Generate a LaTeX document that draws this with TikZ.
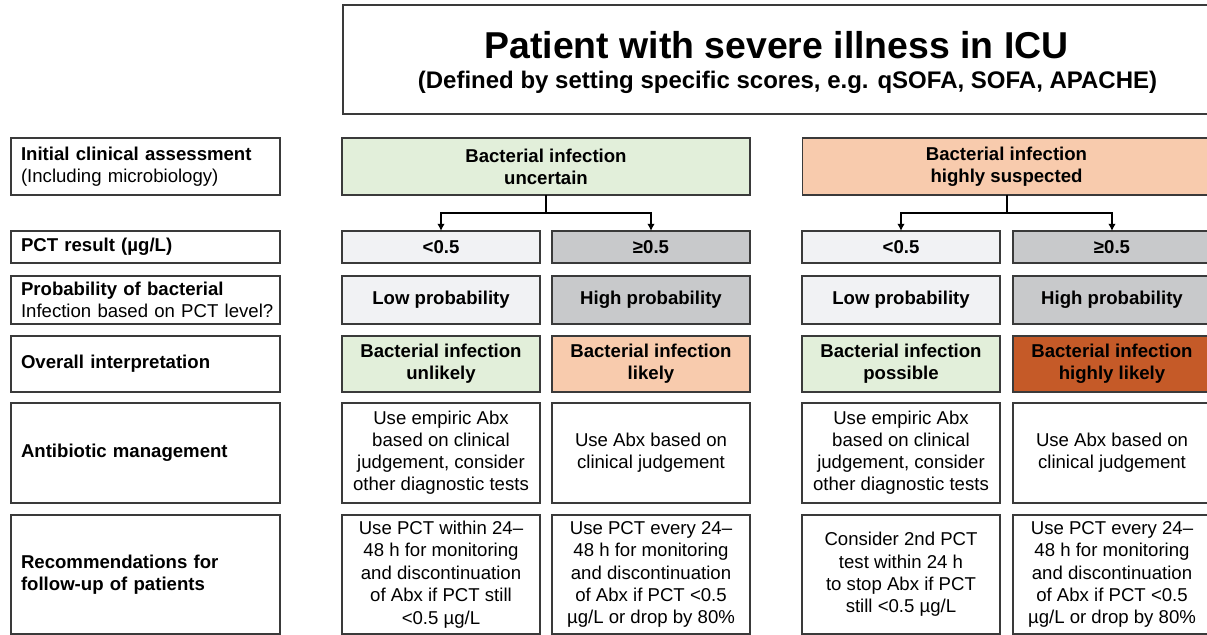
\documentclass[tikz,border=0pt]{standalone}
\usepackage{fontspec}
\setmainfont{Liberation Sans}
\usetikzlibrary{positioning,arrows.meta}

\definecolor{boxline}{HTML}{3A3A3A}
\definecolor{greenfill}{HTML}{E2EFDA}
\definecolor{peachfill}{HTML}{F8CBAD}
\definecolor{rustfill}{HTML}{C55A28}
\definecolor{lowgray}{HTML}{F1F2F4}
\definecolor{highgray}{HTML}{C8C9CB}

\begin{document}
\begin{tikzpicture}
[every node/.style={draw=boxline,line width=0.75pt,inner sep=0pt,outer sep=0pt,align=center,font=\fontsize{9.3}{11}\selectfont},
 lab/.style={rectangle,minimum width=134.5pt,text width=124.5pt,align=left},
 cell/.style={rectangle,minimum width=99pt},
 wide/.style={rectangle,minimum width=204pt},
 bf/.style={font=\fontsize{9.3}{11}\selectfont\bfseries},
 rInit/.style={minimum height=28.5pt},
 rPct/.style={minimum height=16pt},
 rProb/.style={minimum height=24pt},
 rOver/.style={minimum height=28pt},
 rAbx/.style={minimum height=50pt},
 rFollow/.style={minimum height=59.5pt,font=\fontsize{9.3}{11.2}\selectfont},
 conn/.style={draw=black,line width=1pt},
 ->/.style={-{Latex[length=3.6pt,width=3.8pt]}}]
\useasboundingbox (0,0) rectangle (603.5pt,-317.5pt);

% row labels on the left
\node[lab,rInit]   (labInit)   at (72.75pt,-83.25pt)         {\textbf{Initial clinical assessment}\\(Including microbiology)};
\node[lab,rPct]    (labPct)    [on grid,below=40.25pt of labInit] {\textbf{PCT result (µg/L)}};
\node[lab,rProb]   (labProb)   [on grid,below=26.5pt of labPct]   {\textbf{Probability of bacterial}\\\mbox{Infection based on PCT level?}};
\node[lab,rOver]   (labOver)   [on grid,below=32pt of labProb]    {\textbf{Overall interpretation}};
\node[lab,rAbx]    (labAbx)    [on grid,below=44.5pt of labOver]  {\textbf{Antibiotic management}};
\node[lab,rFollow] (labFollow) [on grid,below=60.75pt of labAbx]  {\textbf{Recommendations for}\\\textbf{follow-up of patients}};

% heading
\node[rectangle,minimum width=433.5pt,minimum height=54.5pt] (icu) [on grid,above right=53.5pt and 315.5pt of labInit]
  {{\fontsize{18.7}{22}\selectfont\bfseries\rule{0pt}{16.5pt}Patient with severe illness in ICU}\\[4pt]
   {\fontsize{12}{14}\selectfont\bfseries\hspace*{11pt}(Defined by setting specific scores, e.g. qSOFA, SOFA, APACHE)}};

% initial assessment
\node[wide,rInit,bf,fill=greenfill] (ctUncert) [on grid,right=200.25pt of labInit] {Bacterial infection\\uncertain};
\node[wide,rInit,bf,fill=peachfill] (ctSusp)   [on grid,right=430.5pt of labInit]  {Bacterial infection\\highly suspected};

% PCT result
\node[cell,rPct,bf,fill=lowgray]  (pctLowA)  [on grid,right=147.75pt of labPct] {<0.5};
\node[cell,rPct,bf,fill=highgray] (pctHighA) [on grid,right=252.75pt of labPct] {≥0.5};
\node[cell,rPct,bf,fill=lowgray]  (pctLowB)  [on grid,right=377.75pt of labPct] {<0.5};
\node[cell,rPct,bf,fill=highgray] (pctHighB) [on grid,right=483.25pt of labPct] {≥0.5};

% probability
\node[cell,rProb,bf,fill=lowgray]  (probLowA)  [on grid,right=147.75pt of labProb] {Low probability};
\node[cell,rProb,bf,fill=highgray] (probHighA) [on grid,right=252.75pt of labProb] {High probability};
\node[cell,rProb,bf,fill=lowgray]  (probLowB)  [on grid,right=377.75pt of labProb] {Low probability};
\node[cell,rProb,bf,fill=highgray] (probHighB) [on grid,right=483.25pt of labProb] {High probability};

% interpretation
\node[cell,rOver,bf,fill=greenfill] (ovUnlikely) [on grid,right=147.75pt of labOver] {Bacterial infection\\unlikely};
\node[cell,rOver,bf,fill=peachfill] (ovLikely)   [on grid,right=252.75pt of labOver] {Bacterial infection\\likely};
\node[cell,rOver,bf,fill=greenfill] (ovPossible) [on grid,right=377.75pt of labOver] {Bacterial infection\\possible};
\node[cell,rOver,bf,fill=rustfill]  (ovHighly)   [on grid,right=483.25pt of labOver] {Bacterial infection\\highly likely};

% antibiotics
\node[cell,rAbx] (abxLowA)  [on grid,right=147.75pt of labAbx] {Use empiric Abx\\based on clinical\\judgement, consider\\other diagnostic tests};
\node[cell,rAbx] (abxHighA) [on grid,right=252.75pt of labAbx] {Use Abx based on\\clinical judgement};
\node[cell,rAbx] (abxLowB)  [on grid,right=377.75pt of labAbx] {Use empiric Abx\\based on clinical\\judgement, consider\\other diagnostic tests};
\node[cell,rAbx] (abxHighB) [on grid,right=483.25pt of labAbx] {Use Abx based on\\clinical judgement};

% follow-up
\node[cell,rFollow] (fuLowA)  [on grid,right=147.75pt of labFollow] {Use PCT within 24–\\48 h for monitoring\\and discontinuation\\of Abx if PCT still\\<0.5 µg/L};
\node[cell,rFollow] (fuHighA) [on grid,right=252.75pt of labFollow] {Use PCT every 24–\\48 h for monitoring\\and discontinuation\\of Abx if PCT <0.5\\µg/L or drop by 80\%};
\node[cell,rFollow] (fuLowB)  [on grid,right=377.75pt of labFollow] {Consider 2nd PCT\\test within 24 h\\to stop Abx if PCT\\still <0.5 µg/L};
\node[cell,rFollow] (fuHighB) [on grid,right=483.25pt of labFollow] {Use PCT every 24–\\48 h for monitoring\\and discontinuation\\of Abx if PCT <0.5\\µg/L or drop by 80\%};

% branching to the PCT results
\draw[conn]    (ctUncert.south) -- ++(0,-9pt) coordinate (brA);
\draw[conn,->] (brA) -| (pctLowA.north);
\draw[conn,->] (brA) -| (pctHighA.north);
\draw[conn]    (ctSusp.south) -- ++(0,-9pt) coordinate (brB);
\draw[conn,->] (brB) -| (pctLowB.north);
\draw[conn,->] (brB) -| (pctHighB.north);
\end{tikzpicture}
\end{document}
